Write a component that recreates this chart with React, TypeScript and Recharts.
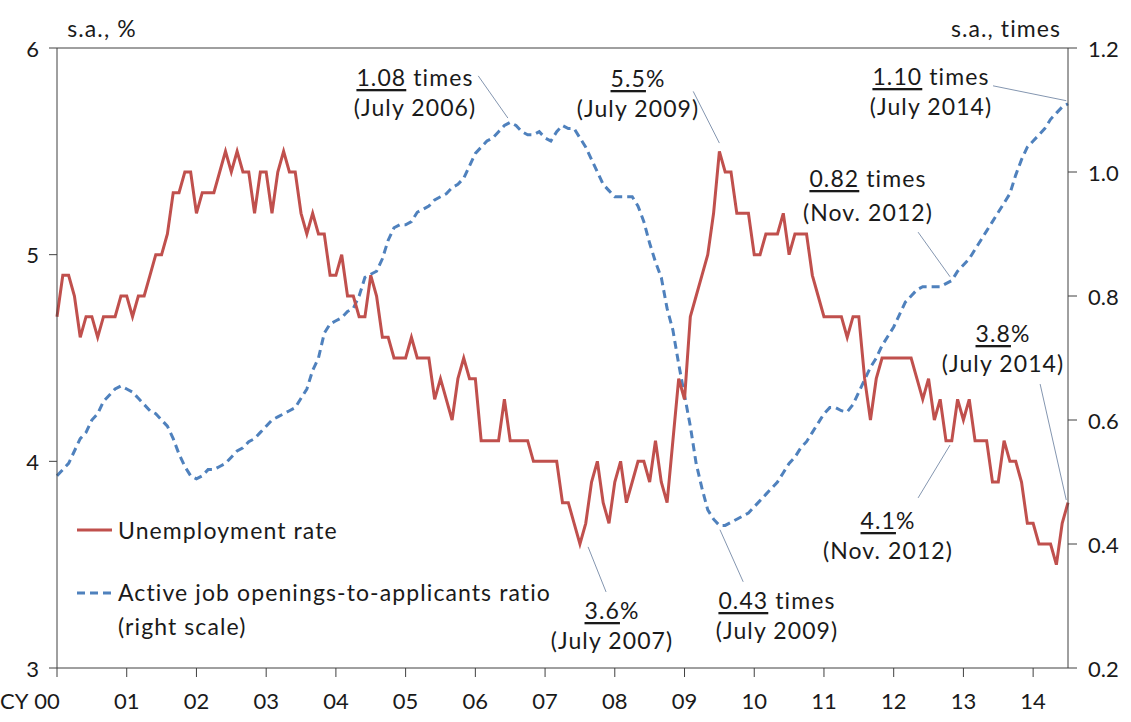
import React from 'react';
import { ComposedChart, Line, XAxis, YAxis, ReferenceLine } from 'recharts';

// Monthly, Jan 2000 .. Jul 2014 (index 0..174)
const unemployment: number[] = [
  4.7, 4.9, 4.9, 4.8, 4.6, 4.7, 4.7, 4.6, 4.7, 4.7, 4.7, 4.8,
  4.8, 4.7, 4.8, 4.8, 4.9, 5.0, 5.0, 5.1, 5.3, 5.3, 5.4, 5.4,
  5.2, 5.3, 5.3, 5.3, 5.4, 5.5, 5.4, 5.5, 5.4, 5.4, 5.2, 5.4,
  5.4, 5.2, 5.4, 5.5, 5.4, 5.4, 5.2, 5.1, 5.2, 5.1, 5.1, 4.9,
  4.9, 5.0, 4.8, 4.8, 4.7, 4.7, 4.9, 4.8, 4.6, 4.6, 4.5, 4.5,
  4.5, 4.6, 4.5, 4.5, 4.5, 4.3, 4.4, 4.3, 4.2, 4.4, 4.5, 4.4,
  4.4, 4.1, 4.1, 4.1, 4.1, 4.3, 4.1, 4.1, 4.1, 4.1, 4.0, 4.0,
  4.0, 4.0, 4.0, 3.8, 3.8, 3.7, 3.6, 3.7, 3.9, 4.0, 3.8, 3.7,
  3.9, 4.0, 3.8, 3.9, 4.0, 4.0, 3.9, 4.1, 3.9, 3.8, 4.1, 4.4,
  4.3, 4.7, 4.8, 4.9, 5.0, 5.2, 5.5, 5.4, 5.4, 5.2, 5.2, 5.2,
  5.0, 5.0, 5.1, 5.1, 5.1, 5.2, 5.0, 5.1, 5.1, 5.1, 4.9, 4.8,
  4.7, 4.7, 4.7, 4.7, 4.6, 4.7, 4.7, 4.4, 4.2, 4.4, 4.5, 4.5,
  4.5, 4.5, 4.5, 4.5, 4.4, 4.3, 4.4, 4.2, 4.3, 4.1, 4.1, 4.3,
  4.2, 4.3, 4.1, 4.1, 4.1, 3.9, 3.9, 4.1, 4.0, 4.0, 3.9, 3.7,
  3.7, 3.6, 3.6, 3.6, 3.5, 3.7, 3.8,
];

const jobRatio: number[] = [
  0.51, 0.52, 0.53, 0.55, 0.57, 0.58, 0.60, 0.61, 0.63, 0.64, 0.65, 0.655,
  0.65, 0.645, 0.635, 0.625, 0.615, 0.61, 0.60, 0.59, 0.57, 0.545, 0.525, 0.51,
  0.505, 0.51, 0.52, 0.52, 0.525, 0.53, 0.54, 0.55, 0.555, 0.565, 0.57, 0.58,
  0.59, 0.60, 0.605, 0.61, 0.615, 0.62, 0.635, 0.65, 0.68, 0.70, 0.74, 0.755,
  0.76, 0.765, 0.775, 0.78, 0.80, 0.83, 0.835, 0.84, 0.86, 0.89, 0.91, 0.915,
  0.915, 0.92, 0.935, 0.94, 0.945, 0.955, 0.96, 0.965, 0.975, 0.98, 0.99, 1.01,
  1.03, 1.04, 1.05, 1.055, 1.065, 1.075, 1.08, 1.075, 1.065, 1.06, 1.06, 1.065,
  1.055, 1.05, 1.065, 1.075, 1.07, 1.07, 1.055, 1.04, 1.02, 1.0, 0.98, 0.97,
  0.96, 0.96, 0.96, 0.96, 0.945, 0.92, 0.885, 0.855, 0.83, 0.78, 0.745, 0.69,
  0.64, 0.59, 0.53, 0.49, 0.455, 0.44, 0.43, 0.43, 0.435, 0.44, 0.445, 0.45,
  0.46, 0.47, 0.48, 0.49, 0.50, 0.515, 0.53, 0.54, 0.555, 0.565, 0.58, 0.595,
  0.61, 0.62, 0.62, 0.615, 0.613, 0.625, 0.645, 0.665, 0.685, 0.70, 0.72, 0.735,
  0.75, 0.77, 0.79, 0.80, 0.81, 0.815, 0.815, 0.815, 0.815, 0.82, 0.825, 0.84,
  0.85, 0.86, 0.875, 0.89, 0.905, 0.92, 0.935, 0.95, 0.965, 0.995, 1.02, 1.04,
  1.05, 1.06, 1.07, 1.085, 1.095, 1.105, 1.11,
];

const yearLabels: string[] = ['00', '01', '02', '03', '04', '05', '06', '07', '08', '09', '10', '11', '12', '13', '14'];
const leftTicks: number[] = [3, 4, 5, 6];
const rightTicks: number[] = [0.2, 0.4, 0.6, 0.8, 1.0, 1.2];

const data = unemployment.map((u, i) => ({ i, u, r: jobRatio[i] }));
const xTicks = yearLabels.map((_, k) => k * 12);

const FONT = 'Lato, "Noto Sans", sans-serif';
const FS = 22;
const TXT = '#1a1a1a';
const AXIS = '#404040';
const LEADER = '#8496B0';
const WORD_FS = 23;
const WORD_LS = 1.1;

const XTick = (props: any) => {
  const { x, y, payload } = props;
  const k = Math.round(payload.value / 12);
  const label = yearLabels[k];
  if (k === 0) {
    return (
      <g>
        <text x={0} y={y + 21} textAnchor="start" dominantBaseline="central" fontFamily={FONT} fontSize={FS} fill={TXT}>
          CY
        </text>
        <text x={x - 10} y={y + 21} textAnchor="middle" dominantBaseline="central" fontFamily={FONT} fontSize={FS} fill={TXT}>
          {label}
        </text>
      </g>
    );
  }
  return (
    <text x={x} y={y + 21} textAnchor="middle" dominantBaseline="central" fontFamily={FONT} fontSize={FS} fill={TXT}>
      {label}
    </text>
  );
};

const LeftTick = (props: any) => {
  const { x, y, payload } = props;
  return (
    <text x={x} y={y} textAnchor="end" dominantBaseline="central" fontFamily={FONT} fontSize={FS} fill={TXT}>
      {String(payload.value)}
    </text>
  );
};

const RightTick = (props: any) => {
  const { x, y, payload } = props;
  return (
    <text x={x} y={y} textAnchor="start" dominantBaseline="central" fontFamily={FONT} fontSize={FS} fill={TXT}>
      {Number(payload.value).toFixed(1)}
    </text>
  );
};

type Ann = { cx: number; cy: number; value: string; rest: string; date: string; dy?: number };
const annotations: Ann[] = [
  { cx: 415, cy: 77, value: '1.08', rest: ' times', date: '(July 2006)' },
  { cx: 638, cy: 78, value: '5.5', rest: '%', date: '(July 2009)' },
  { cx: 931, cy: 76, value: '1.10', rest: ' times', date: '(July 2014)' },
  { cx: 868, cy: 178, value: '0.82', rest: ' times', date: '(Nov. 2012)', dy: 34 },
  { cx: 1003, cy: 333, value: '3.8', rest: '%', date: '(July 2014)' },
  { cx: 888, cy: 520, value: '4.1', rest: '%', date: '(Nov. 2012)' },
  { cx: 612, cy: 610, value: '3.6', rest: '%', date: '(July 2007)' },
  { cx: 777, cy: 600, value: '0.43', rest: ' times', date: '(July 2009)' },
];

export default function App() {
  return (
    <div style={{ position: 'absolute', left: 0, top: 0, width: 1131, height: 722, background: '#fff' }}>
      <ComposedChart
        width={1131}
        height={722}
        data={data}
        margin={{ top: 48, right: 0, bottom: 0, left: 0 }}
      >
        <XAxis
          dataKey="i"
          type="number"
          domain={[0, 174]}
          ticks={xTicks}
          interval={0}
          height={54}
          tickSize={9}
          stroke={AXIS}
          tickLine={{ stroke: AXIS }}
          tick={<XTick />}
        />
        <YAxis
          yAxisId="left"
          orientation="left"
          domain={[3, 6]}
          ticks={leftTicks}
          width={57}
          tickSize={8}
          tickMargin={10}
          stroke={AXIS}
          tick={<LeftTick />}
          allowDataOverflow
        />
        <YAxis
          yAxisId="right"
          orientation="right"
          domain={[0.2, 1.2]}
          ticks={rightTicks}
          width={63}
          tickSize={9}
          tickMargin={11}
          stroke={AXIS}
          tick={<RightTick />}
          allowDataOverflow
        />
        <ReferenceLine yAxisId="left" y={6} stroke={AXIS} strokeWidth={1} />
        <ReferenceLine yAxisId="right" stroke={LEADER} segment={[{ x: 72.5, y: 1.155 }, { x: 77.6, y: 1.087 }]} />
        <ReferenceLine yAxisId="left" stroke={LEADER} segment={[{ x: 109.5, y: 5.79 }, { x: 114, y: 5.54 }]} />
        <ReferenceLine yAxisId="right" stroke={LEADER} segment={[{ x: 161.1, y: 1.139 }, { x: 173.7, y: 1.115 }]} />
        <ReferenceLine yAxisId="right" stroke={LEADER} segment={[{ x: 148.2, y: 0.903 }, { x: 153.7, y: 0.831 }]} />
        <ReferenceLine yAxisId="left" stroke={LEADER} segment={[{ x: 169.2, y: 4.374 }, { x: 173.7, y: 3.813 }]} />
        <ReferenceLine yAxisId="left" stroke={LEADER} segment={[{ x: 148.2, y: 3.823 }, { x: 153.7, y: 4.079 }]} />
        <ReferenceLine yAxisId="left" stroke={LEADER} segment={[{ x: 91.4, y: 3.586 }, { x: 94.5, y: 3.368 }]} />
        <ReferenceLine yAxisId="right" stroke={LEADER} segment={[{ x: 114.1, y: 0.423 }, { x: 118.1, y: 0.339 }]} />
        <Line
          yAxisId="right"
          dataKey="r"
          type="linear"
          stroke="#4F81BD"
          strokeWidth={3}
          strokeDasharray="8 5"
          dot={false}
          activeDot={false}
          isAnimationActive={false}
        />
        <Line
          yAxisId="left"
          dataKey="u"
          type="linear"
          stroke="#C0504D"
          strokeWidth={3}
          dot={false}
          activeDot={false}
          isAnimationActive={false}
        />
      </ComposedChart>
      <svg width={1131} height={722} style={{ position: 'absolute', left: 0, top: 0, pointerEvents: 'none' }}>
        <g fontFamily={FONT} fontSize={WORD_FS} fill={TXT} letterSpacing={WORD_LS}>
          <text x={102} y={28} textAnchor="middle" dominantBaseline="central">s.a., %</text>
          <text x={1006} y={28} textAnchor="middle" dominantBaseline="central">s.a., times</text>
          {annotations.map((a, k) => (
            <g key={k}>
              <text x={a.cx} y={a.cy} textAnchor="middle" dominantBaseline="central">
                <tspan style={{ textDecoration: 'underline' }}>{a.value}</tspan>
                <tspan>{a.rest}</tspan>
              </text>
              <text x={a.cx} y={a.cy + (a.dy ?? 30)} textAnchor="middle" dominantBaseline="central">{a.date}</text>
            </g>
          ))}
          <line x1={77} x2={112} y1={530} y2={530} stroke="#C0504D" strokeWidth={3} />
          <text x={118} y={530} dominantBaseline="central">Unemployment rate</text>
          <line x1={77} x2={112} y1={593} y2={593} stroke="#4F81BD" strokeWidth={3} strokeDasharray="8 5" />
          <text x={118} y={592} dominantBaseline="central">Active job openings-to-applicants ratio</text>
          <text x={118} y={626} dominantBaseline="central">(right scale)</text>
        </g>
      </svg>
    </div>
  );
}
